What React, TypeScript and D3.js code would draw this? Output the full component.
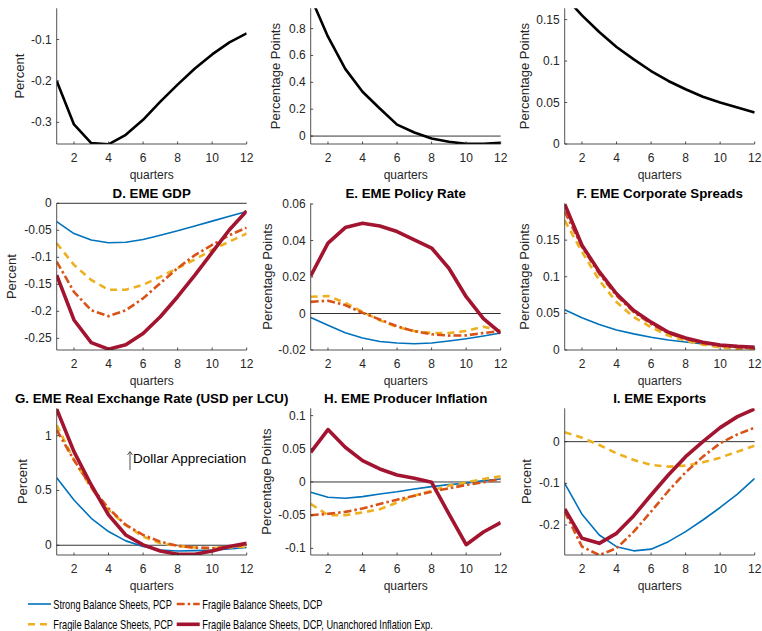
import React from 'react';
import * as d3 from 'd3';

const quarters = [1, 2, 3, 4, 5, 6, 7, 8, 9, 10, 11, 12];
const xTicks = [2, 4, 6, 8, 10, 12];

const legendNames = [
  'Strong Balance Sheets, PCP',
  'Fragile Balance Sheets, PCP',
  'Fragile Balance Sheets, DCP',
  'Fragile Balance Sheets, DCP, Unanchored Inflation Exp.',
];

// top row, single black responses
const topA = [-0.2, -0.305, -0.35, -0.353, -0.33, -0.294, -0.25, -0.209, -0.17, -0.136, -0.107, -0.085];
const topB = [1.035, 0.74, 0.5, 0.33, 0.205, 0.085, 0.027, -0.018, -0.042, -0.058, -0.058, -0.05];
const topC = [0.178, 0.155, 0.135, 0.117, 0.102, 0.088, 0.076, 0.066, 0.057, 0.05, 0.044, 0.038];

// D. EME GDP
const gdpStrong = [-0.034, -0.056, -0.068, -0.073, -0.072, -0.067, -0.059, -0.051, -0.042, -0.033, -0.024, -0.015];
const gdpFragPCP = [-0.074, -0.114, -0.142, -0.16, -0.16, -0.151, -0.136, -0.12, -0.104, -0.086, -0.071, -0.056];
const gdpFragDCP = [-0.108, -0.164, -0.198, -0.209, -0.198, -0.176, -0.148, -0.12, -0.096, -0.077, -0.059, -0.045];
const gdpUnanch = [-0.133, -0.216, -0.258, -0.27, -0.262, -0.241, -0.21, -0.173, -0.133, -0.091, -0.049, -0.014];

// E. EME Policy Rate
const rateStrong = [-0.0022, -0.0064, -0.0105, -0.0134, -0.0153, -0.0162, -0.0166, -0.0162, -0.0151, -0.0138, -0.0123, -0.0107];
const rateFragPCP = [0.0092, 0.0096, 0.0059, 0.0009, -0.0037, -0.0074, -0.0096, -0.0107, -0.0107, -0.0096, -0.0072, -0.0095];
const rateFragDCP = [0.0064, 0.007, 0.0046, 0.0004, -0.0033, -0.007, -0.0097, -0.0114, -0.0121, -0.012, -0.0107, -0.0096];
const rateUnanch = [0.0206, 0.0386, 0.0471, 0.0495, 0.048, 0.0449, 0.0404, 0.0359, 0.0248, 0.0092, -0.0028, -0.0107];

// F. EME Corporate Spreads
const sprStrong = [0.0549, 0.0439, 0.0348, 0.0274, 0.022, 0.0174, 0.0137, 0.011, 0.0082, 0.0064, 0.005, 0.0046];
const sprFragPCP = [0.177, 0.134, 0.0951, 0.0654, 0.0448, 0.0311, 0.0197, 0.0128, 0.0073, 0.0037, 0.0014, 0.0014];
const sprFragDCP = [0.189, 0.141, 0.104, 0.0745, 0.0517, 0.0357, 0.023, 0.0151, 0.0091, 0.0055, 0.0037, 0.0023];
const sprUnanch = [0.199, 0.143, 0.107, 0.0768, 0.054, 0.038, 0.0242, 0.0165, 0.0105, 0.0069, 0.005, 0.0037];

// G. EME Real Exchange Rate
const rerStrong = [0.617, 0.413, 0.246, 0.125, 0.04, -0.012, -0.043, -0.052, -0.049, -0.043, -0.033, -0.021];
const rerFragPCP = [1.097, 0.778, 0.52, 0.322, 0.185, 0.079, 0.018, -0.006, -0.021, -0.027, -0.021, -0.012];
const rerFragDCP = [1.052, 0.778, 0.535, 0.337, 0.185, 0.094, 0.033, -0.006, -0.021, -0.027, -0.012, 0.003];
const rerUnanch = [1.243, 0.854, 0.55, 0.277, 0.094, 0.003, -0.052, -0.082, -0.082, -0.052, -0.012, 0.018];

// H. EME Producer Inflation
const infStrong = [-0.0156, -0.023, -0.0246, -0.022, -0.018, -0.0146, -0.0106, -0.007, -0.004, -0.002, 0.002, 0.0045];
const infFragPCP = [-0.033, -0.05, -0.05, -0.046, -0.041, -0.031, -0.0206, -0.013, -0.0055, -0.0005, 0.0045, 0.0085];
const infFragDCP = [-0.05, -0.048, -0.045, -0.04, -0.033, -0.0266, -0.0206, -0.0146, -0.0095, -0.0045, -0.0005, 0.0045];
const infUnanch = [0.0447, 0.079, 0.0523, 0.0322, 0.0196, 0.0106, 0.0055, -0.0005, -0.048, -0.0945, -0.0754, -0.0613];

// I. EME Exports
const expStrong = [-0.1, -0.174, -0.224, -0.252, -0.262, -0.258, -0.24, -0.216, -0.188, -0.158, -0.126, -0.088];
const expFragPCP = [0.0224, 0.0096, -0.008, -0.028, -0.044, -0.056, -0.06, -0.0576, -0.0496, -0.0384, -0.024, -0.0096];
const expFragDCP = [-0.168, -0.252, -0.272, -0.256, -0.216, -0.168, -0.1184, -0.0736, -0.036, -0.004, 0.0176, 0.0336];
const expUnanch = [-0.1616, -0.232, -0.244, -0.22, -0.1776, -0.128, -0.08, -0.036, 0, 0.0336, 0.06, 0.0784];

const styles: Record<string, { color: string; width: number; dash?: string }> = {
  black: { color: '#000000', width: 2.6 },
  strong: { color: '#0072BD', width: 1.6 },
  fragPCP: { color: '#EDB120', width: 2.6, dash: '7,5' },
  fragDCP: { color: '#D95319', width: 2.6, dash: '8,3,2.5,3' },
  unanch: { color: '#A2142F', width: 3.6 },
};
const legendKeys = ['strong', 'fragPCP', 'fragDCP', 'unanch'];

const cols = [[56.7, 246.7], [310.7, 500.7], [564.7, 754.7]];
const rows = [[8.3, 144], [203.3, 350], [408.3, 555]];

type Panel = {
  id: string;
  title?: string;
  ylabel: string;
  col: number;
  row: number;
  domain: [number, number];
  ticks: number[];
  lines: [number[], string][];
  zero: boolean;
  labOff: number;
};

const panels: Panel[] = [
  { id: 'a', ylabel: 'Percent', col: 0, row: 0, domain: [-0.3523, -0.0246], ticks: [-0.3, -0.2, -0.1], lines: [[topA, 'black']], zero: false, labOff: 37 },
  { id: 'b', ylabel: 'Percentage Points', col: 1, row: 0, domain: [-0.059, 0.951], ticks: [0, 0.2, 0.4, 0.6, 0.8], lines: [[topB, 'black']], zero: true, labOff: 35 },
  { id: 'c', ylabel: 'Percentage Points', col: 2, row: 0, domain: [0, 0.1636], ticks: [0, 0.05, 0.1, 0.15], lines: [[topC, 'black']], zero: false, labOff: 40 },
  { id: 'd', title: 'D. EME GDP', ylabel: 'Percent', col: 0, row: 1, domain: [-0.2716, 0], ticks: [-0.25, -0.2, -0.15, -0.1, -0.05, 0], lines: [[gdpStrong, 'strong'], [gdpFragPCP, 'fragPCP'], [gdpFragDCP, 'fragDCP'], [gdpUnanch, 'unanch']], zero: true, labOff: 45 },
  { id: 'e', title: 'E. EME Policy Rate', ylabel: 'Percentage Points', col: 1, row: 1, domain: [-0.02, 0.0604], ticks: [-0.02, 0, 0.02, 0.04, 0.06], lines: [[rateStrong, 'strong'], [rateFragPCP, 'fragPCP'], [rateFragDCP, 'fragDCP'], [rateUnanch, 'unanch']], zero: true, labOff: 43.4 },
  { id: 'f', title: 'F. EME Corporate Spreads', ylabel: 'Percentage Points', col: 2, row: 1, domain: [0, 0.2003], ticks: [0, 0.05, 0.1, 0.15], lines: [[sprStrong, 'strong'], [sprFragPCP, 'fragPCP'], [sprFragDCP, 'fragDCP'], [sprUnanch, 'unanch']], zero: false, labOff: 40 },
  { id: 'g', title: 'G. EME Real Exchange Rate (USD per LCU)', ylabel: 'Percent', col: 0, row: 2, domain: [-0.089, 1.25], ticks: [0, 0.5, 1], lines: [[rerStrong, 'strong'], [rerFragPCP, 'fragPCP'], [rerFragDCP, 'fragDCP'], [rerUnanch, 'unanch']], zero: true, labOff: 34 },
  { id: 'h', title: 'H. EME Producer Inflation', ylabel: 'Percentage Points', col: 1, row: 2, domain: [-0.11, 0.111], ticks: [-0.1, -0.05, 0, 0.05, 0.1], lines: [[infStrong, 'strong'], [infFragPCP, 'fragPCP'], [infFragDCP, 'fragDCP'], [infUnanch, 'unanch']], zero: true, labOff: 44 },
  { id: 'i', title: 'I. EME Exports', ylabel: 'Percent', col: 2, row: 2, domain: [-0.272, 0.08], ticks: [-0.2, -0.1, 0], lines: [[expStrong, 'strong'], [expFragPCP, 'fragPCP'], [expFragDCP, 'fragDCP'], [expUnanch, 'unanch']], zero: true, labOff: 38.4 },
];

const FONT = '"Liberation Sans", Arial, Helvetica, sans-serif';
const AX = '#262626';

function PanelView({ p }: { p: Panel }) {
  const [x0, x1] = cols[p.col];
  const [top, bottom] = rows[p.row];
  const x = d3.scaleLinear().domain([1, 12]).range([x0, x1]);
  const y = d3.scaleLinear().domain(p.domain).range([bottom, top]);
  const line = d3.line<number>().x((_, i) => x(quarters[i])).y((d) => y(d));
  const clipId = `clip-${p.id}`;
  return (
    <g>
      <defs>
        <clipPath id={clipId}>
          <rect x={x0} y={top} width={x1 - x0} height={bottom - top} />
        </clipPath>
      </defs>
      {p.title && (
        <text x={(x0 + x1) / 2} y={top - 5.4} textAnchor="middle" fontWeight="bold" fontSize={13.3} fill="#000">
          {p.title}
        </text>
      )}
      {p.zero && <line x1={x0} x2={x1} y1={y(0)} y2={y(0)} stroke="#000" strokeWidth={0.8} />}
      <g clipPath={`url(#${clipId})`}>
        {p.lines.map(([vals, key], i) => {
          const s = styles[key];
          return (
            <path key={i} d={line(vals) || ''} fill="none" stroke={s.color} strokeWidth={s.width}
              strokeDasharray={s.dash} strokeLinejoin="round" />
          );
        })}
      </g>
      <line x1={x0} x2={x0} y1={top} y2={bottom} stroke={AX} strokeWidth={0.8} />
      <line x1={x0} x2={x1} y1={bottom} y2={bottom} stroke={AX} strokeWidth={0.8} />
      {xTicks.map((t) => (
        <g key={t}>
          <line x1={x(t)} x2={x(t)} y1={bottom} y2={bottom - 2.5} stroke={AX} strokeWidth={0.8} />
          <text x={x(t)} y={bottom + 17.5} textAnchor="middle" fontSize={12} fill={AX}>{t}</text>
        </g>
      ))}
      {p.ticks.map((t) => (
        <g key={t}>
          <line x1={x0} x2={x0 + 2.5} y1={y(t)} y2={y(t)} stroke={AX} strokeWidth={0.8} />
          <text x={x0 - 5} y={y(t) + 4} textAnchor="end" fontSize={12} fill={AX}>{String(t)}</text>
        </g>
      ))}
      <text x={(x0 + x1) / 2} y={bottom + 35} textAnchor="middle" fontSize={12} fill={AX}>quarters</text>
      <text transform={`translate(${x0 - p.labOff},${(top + bottom) / 2}) rotate(-90)`} textAnchor="middle"
        dominantBaseline="central" fontSize={13} fill={AX}>
        {p.ylabel}
      </text>
    </g>
  );
}

function Legend() {
  const items = [
    { key: legendKeys[0], name: legendNames[0], lx: 28, tx: 53.3, y: 604 },
    { key: legendKeys[2], name: legendNames[2], lx: 176.7, tx: 202.3, y: 604 },
    { key: legendKeys[1], name: legendNames[1], lx: 28, tx: 53.3, y: 624.3 },
    { key: legendKeys[3], name: legendNames[3], lx: 176.7, tx: 202.3, y: 624.3 },
  ];
  return (
    <g>
      {items.map((it) => {
        const s = styles[it.key];
        return (
          <g key={it.name}>
            <line x1={it.lx} x2={it.lx + 23} y1={it.y} y2={it.y} stroke={s.color} strokeWidth={s.width}
              strokeDasharray={s.dash} />
            {/* legend text in the reference is horizontally condensed */}
            <text transform={`translate(${it.tx},${it.y + 4.5}) scale(0.74,1)`} fontSize={12.5} fill="#000">
              {it.name}
            </text>
          </g>
        );
      })}
    </g>
  );
}

export default function App() {
  return (
    <svg width={762} height={631} style={{ position: 'absolute', left: 0, top: 0, background: '#fff' }}
      fontFamily={FONT}>
      <rect width={762} height={631} fill="#fff" />
      {panels.map((p) => <PanelView key={p.id} p={p} />)}
      {/* annotation in the real exchange rate panel */}
      <g stroke={AX} strokeWidth={0.8} fill="none">
        <line x1={130} x2={130} y1={452} y2={470} />
        <path d="M127.5,455 L130,451.5 L132.5,455" />
      </g>
      <text x={133} y={462.5} fontSize={13.5} fill="#000">Dollar Appreciation</text>
      <Legend />
    </svg>
  );
}
